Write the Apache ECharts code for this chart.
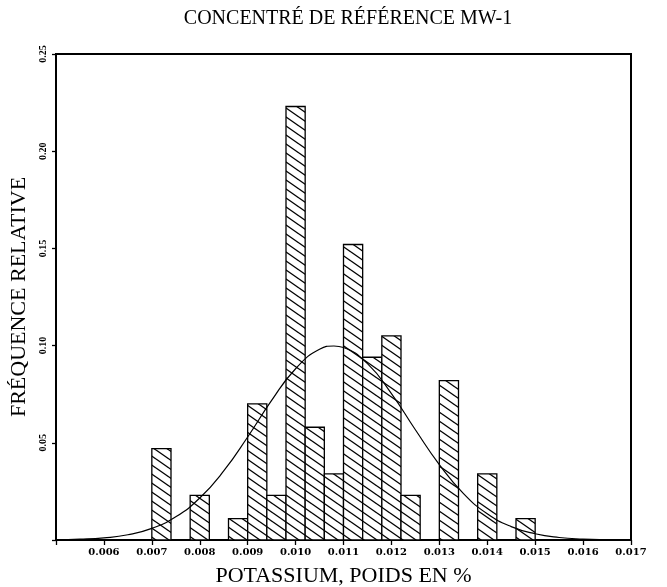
<!DOCTYPE html>
<html>
<head>
<meta charset="utf-8">
<script src="https://cdn.jsdelivr.net/npm/echarts@6/dist/echarts.min.js"></script>
<style>html,body{margin:0;padding:0;background:#fff;}#c{width:667px;height:587px;}</style>
</head>
<body>
<div id="c"></div>
<script>
// Histogram bins (lower edge, % K) and relative frequencies
var binStart = [0.0070, 0.0078, 0.0086, 0.0090, 0.0094, 0.0098, 0.0102, 0.0106, 0.0110, 0.0114, 0.0118, 0.0122, 0.0130, 0.0138, 0.0146];
var freq     = [0.047,  0.023,  0.011,  0.070,  0.023,  0.223,  0.058,  0.034,  0.152,  0.094,  0.105,  0.023,  0.082,  0.034,  0.011];
var binWidth = 0.0004;
// Fitted curve
var curveX = [0.0050, 0.0055, 0.0060, 0.0065, 0.0070, 0.0075, 0.0080, 0.0085, 0.0090, 0.0095, 0.0100, 0.0105, 0.0108, 0.0110, 0.0115, 0.0120, 0.0125, 0.0130, 0.0135, 0.0140, 0.0145, 0.0150, 0.0155, 0.0160, 0.0165, 0.0170];
var curveY = [0.0001, 0.0004, 0.0011, 0.0027, 0.0060, 0.0119, 0.0216, 0.0355, 0.0530, 0.0718, 0.0881, 0.0981, 0.0998, 0.0990, 0.0907, 0.0753, 0.0567, 0.0388, 0.0240, 0.0135, 0.0069, 0.0032, 0.0013, 0.0005, 0.0002, 0.0001];
var xTicks = ['0.006','0.007','0.008','0.009','0.010','0.011','0.012','0.013','0.014','0.015','0.016','0.017'];
var yTicks = ['0.05','0.10','0.15','0.20','0.25'];

function hatch() {
  var w = 13, h = 9;
  var cv = document.createElement('canvas');
  cv.width = w; cv.height = h;
  var ctx = cv.getContext('2d');
  ctx.fillStyle = '#fff'; ctx.fillRect(0, 0, w, h);
  ctx.strokeStyle = '#000'; ctx.lineWidth = 1.3;
  [[-w, 0], [0, 0], [w, 0], [0, -h], [0, h]].forEach(function (o) {
    ctx.beginPath(); ctx.moveTo(o[0], o[1]); ctx.lineTo(o[0] + w, o[1] + h); ctx.stroke();
  });
  return cv;
}
var pat = { image: hatch(), repeat: 'repeat' };

var barData = binStart.map(function (s, i) { return [s, s + binWidth, freq[i]]; });
var lineData = curveX.map(function (x, i) { return [x, curveY[i]]; });

var chart = echarts.init(document.getElementById('c'), null, { renderer: 'canvas' });
var serif = '"Liberation Serif", "DejaVu Serif", serif';
chart.setOption({
  animation: false,
  backgroundColor: '#fff',
  title: {
    text: 'CONCENTRÉ DE RÉFÉRENCE MW-1',
    left: 343, top: 4, textAlign: 'center',
    textStyle: { fontFamily: serif, fontWeight: 'normal', fontSize: 20, color: '#000' }
  },
  grid: { left: 56, right: 36, top: 54, bottom: 47, outerBoundsMode: 'none', containLabel: false,
          show: true, borderColor: '#000', borderWidth: 2, backgroundColor: 'transparent' },
  xAxis: {
    type: 'value', min: 0.005, max: 0.017, interval: 0.001,
    name: 'POTASSIUM, POIDS EN %', nameLocation: 'middle', nameGap: 25,
    nameTextStyle: { fontFamily: serif, fontSize: 22, color: '#000' },
    axisLine: { show: true, lineStyle: { color: '#000', width: 2 } },
    axisTick: { show: true, inside: false, length: 5, lineStyle: { color: '#000', width: 1.3 } },
    splitLine: { show: false },
    axisLabel: {
      margin: 7, fontFamily: '"DejaVu Serif", serif', fontWeight: 'bold', fontSize: 10, color: '#000',
      formatter: function (v) { var s = v.toFixed(3); return xTicks.indexOf(s) >= 0 ? s : ''; }
    }
  },
  yAxis: {
    type: 'value', min: 0, max: 0.25, interval: 0.05,
    name: 'FRÉQUENCE RELATIVE', nameLocation: 'middle', nameGap: 23, nameRotate: 90,
    nameTextStyle: { fontFamily: serif, fontSize: 22, color: '#000' },
    axisLine: { show: true, lineStyle: { color: '#000', width: 2 } },
    axisTick: { show: true, inside: false, length: 4, lineStyle: { color: '#000', width: 1.3 } },
    splitLine: { show: false },
    axisLabel: {
      rotate: 90, margin: 8, fontFamily: serif, fontWeight: 'bold', fontSize: 10, color: '#000',
      formatter: function (v) { var s = v.toFixed(2); return yTicks.indexOf(s) >= 0 ? s : ''; }
    }
  },
  series: [
    {
      type: 'custom',
      data: barData,
      encode: { x: [0, 1], y: 2 },
      renderItem: function (params, api) {
        var p0 = api.coord([api.value(0), api.value(2)]);
        var p1 = api.coord([api.value(1), 0]);
        return {
          type: 'rect',
          shape: { x: p0[0], y: p0[1], width: p1[0] - p0[0], height: p1[1] - p0[1] },
          style: { fill: pat, stroke: '#000', lineWidth: 1.3 }
        };
      },
      z: 2
    },
    {
      type: 'line',
      data: lineData,
      smooth: true,
      showSymbol: false,
      lineStyle: { color: '#000', width: 1.2 },
      z: 3
    }
  ]
});
</script>
</body>
</html>
